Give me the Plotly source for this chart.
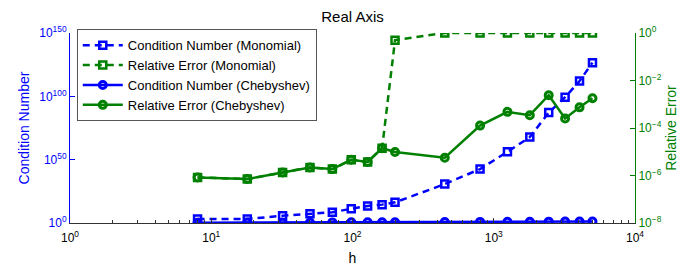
import plotly.graph_objects as go

# data
h = [8, 18, 32, 50, 72, 98, 128, 162, 200, 450, 800, 1250, 1800, 2450, 3200, 4050, 5000]
cond_mono_exp = [3.1, 3.2, 5.7, 7.3, 8.5, 11.2, 13.5, 14.5, 16.3, 30.7, 42.6, 56.2, 67.8, 87.2, 99.3, 112.1, 126.6]
relerr_mono_exp = [-6.08, -6.15, -5.87, -5.66, -5.73, -5.34, -5.43, -4.85, -0.30, 0.0, 0.0, 0.0, 0.0, 0.0, 0.0, 0.0, 0.0]
cond_cheb = [1.8, 2.1, 2.4, 2.7, 3.0, 3.3, 3.6, 4.0, 4.4, 6.0, 7.5, 9.0, 10.5, 12.0, 13.5, 15.5, 17.0]
relerr_cheb_exp = [-6.08, -6.15, -5.87, -5.66, -5.73, -5.34, -5.43, -4.85, -5.01, -5.25, -3.90, -3.32, -3.46, -2.62, -3.60, -3.13, -2.75]

cond_mono = [10 ** e for e in cond_mono_exp]
relerr_mono = [10 ** e for e in relerr_mono_exp]
relerr_cheb = [10 ** e for e in relerr_cheb_exp]

x_tickvals = [1, 10, 100, 1000, 10000]
x_ticktext = ["10<sup>0</sup>", "10<sup>1</sup>", "10<sup>2</sup>", "10<sup>3</sup>", "10<sup>4</sup>"]
yl_tickvals = [1, 1e50, 1e100, 1e150]
yl_ticktext = ["10<sup>0</sup>", "10<sup>50</sup>", "10<sup>100</sup>", "10<sup>150</sup>"]
yr_tickvals = [1e-8, 1e-6, 1e-4, 1e-2, 1]
yr_ticktext = ["10<sup>−8</sup>", "10<sup>−6</sup>", "10<sup>−4</sup>", "10<sup>−2</sup>", "10<sup>0</sup>"]

BLUE = "#0000ff"
GREEN = "#008000"
FONT = "Liberation Sans, Arial, sans-serif"

minor_x = [m * 10 ** k for k in range(4) for m in range(2, 10)]

fig = go.Figure()
dash = "7px,5px"
fig.add_trace(go.Scatter(
    x=h, y=cond_mono, name="Condition Number (Monomial)", mode="lines+markers",
    line=dict(color=BLUE, width=2.5, dash=dash),
    marker=dict(symbol="square-open", size=7, color=BLUE, line=dict(width=2.5)),
    yaxis="y"))
fig.add_trace(go.Scatter(
    x=h, y=relerr_mono, name="Relative Error (Monomial)", mode="lines+markers",
    line=dict(color=GREEN, width=2.5, dash=dash),
    marker=dict(symbol="square-open", size=7, color=GREEN, line=dict(width=2.5)),
    yaxis="y2"))
fig.add_trace(go.Scatter(
    x=h, y=cond_cheb, name="Condition Number (Chebyshev)", mode="lines+markers",
    line=dict(color=BLUE, width=2.5),
    marker=dict(symbol="circle-open", size=7, color=BLUE, line=dict(width=3)),
    yaxis="y"))
fig.add_trace(go.Scatter(
    x=h, y=relerr_cheb, name="Relative Error (Chebyshev)", mode="lines+markers",
    line=dict(color=GREEN, width=2.5),
    marker=dict(symbol="circle-open", size=7, color=GREEN, line=dict(width=3)),
    yaxis="y2"))

# page has an 8px body margin: figure is 684x265, offset by 8px
fig.update_layout(
    width=684, height=265,
    margin=dict(l=62, r=57, t=25, b=50, autoexpand=False),
    paper_bgcolor="white", plot_bgcolor="white",
    font=dict(family=FONT, size=12, color="black"),
    title=dict(text="Real Axis", x=0.5, xref="paper", y=0.966, yanchor="middle",
               font=dict(size=15, family=FONT, color="black")),
    showlegend=True,
    legend=dict(x=0.012, y=1.02, xanchor="left", yanchor="top",
                bgcolor="white", bordercolor="#555555", borderwidth=1,
                font=dict(size=13, family=FONT), tracegroupgap=0,
                itemwidth=40),
    xaxis=dict(type="log", range=[0, 4], showgrid=False, zeroline=False,
               showline=True, linecolor="#333333", linewidth=1,
               ticks="inside", ticklen=5, tickcolor="#333333",
               tickvals=x_tickvals, ticktext=x_ticktext, ticklabelstandoff=4,
               tickfont=dict(size=12, color="black"),
               title=dict(text="h", font=dict(size=14, color="black"), standoff=8),
               minor=dict(ticks="inside", ticklen=3, tickcolor="#333333", tickvals=minor_x, showgrid=False)),
    yaxis=dict(type="log", range=[0, 150], showgrid=False, zeroline=False,
               showline=True, linecolor=BLUE, linewidth=1,
               ticks="inside", ticklen=5, tickcolor=BLUE,
               tickvals=yl_tickvals, ticktext=yl_ticktext,
               tickfont=dict(size=12, color=BLUE),
               title=dict(text="Condition Number", font=dict(size=14, color=BLUE), standoff=6)),
    yaxis2=dict(type="log", range=[-8, 0], overlaying="y", side="right", anchor="x",
                showgrid=False, zeroline=False,
                showline=True, linecolor=GREEN, linewidth=1,
                ticks="inside", ticklen=5, tickcolor=GREEN,
                tickvals=yr_tickvals, ticktext=yr_ticktext,
                tickfont=dict(size=12, color=GREEN),
                title=dict(text="Relative Error", font=dict(size=14, color=GREEN), standoff=5)),
)

fig.write_html("out.html")
